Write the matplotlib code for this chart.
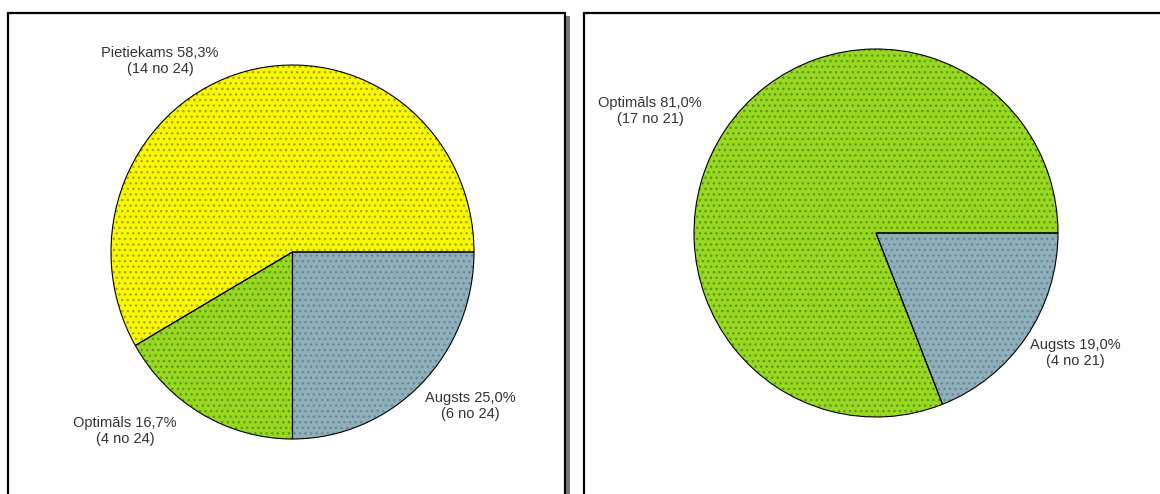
import matplotlib
matplotlib.use("Agg")
import matplotlib.pyplot as plt
from matplotlib.patches import Rectangle

plt.rcParams['font.family'] = ['Liberation Sans', 'DejaVu Sans']
plt.rcParams['hatch.linewidth'] = 1.0

# ---- data ----
left_categories = ["Augsts", "Optimāls", "Pietiekams"]
left_counts = [6, 4, 14]
left_total = 24
left_pct_labels = ["25,0%", "16,7%", "58,3%"]

right_categories = ["Augsts", "Optimāls"]
right_counts = [4, 17]
right_total = 21
right_pct_labels = ["19,0%", "81,0%"]

# ---- styles ----
colors = {"Augsts": "#8fb0bb", "Optimāls": "#98d820", "Pietiekams": "#f8f800"}
dots = {"Augsts": "#6a8893", "Optimāls": "#5a9a10", "Pietiekams": "#a8a800"}
text_color = "#333333"

W, H = 1160, 494
fig = plt.figure(figsize=(W / 100, H / 100), dpi=100)
fig.patch.set_facecolor("white")


def px_rect(x0, y0, x1, y1, **kw):
    return Rectangle((x0 / W, 1 - y1 / H), (x1 - x0) / W, (y1 - y0) / H,
                     transform=fig.transFigure, **kw)


# panel frames with shadow
fig.add_artist(px_rect(9, 16, 570, 520, facecolor="#777777", edgecolor="none", zorder=-3))
fig.add_artist(px_rect(8, 13, 565, 520, facecolor="white", edgecolor="black", linewidth=1.6, zorder=-2))
fig.add_artist(px_rect(584, 13, 1175, 520, facecolor="white", edgecolor="black", linewidth=1.6, zorder=-2))


def draw_pie(cx, cy, rx, ry, cats, counts, total, pcts, label_pos):
    ax = fig.add_axes([(cx - rx) / W, (H - cy - ry) / H, 2 * rx / W, 2 * ry / H])
    ax.set_zorder(2)
    ax.patch.set_visible(False)
    cols = [colors[c] for c in cats]
    wedges, _ = ax.pie(counts, colors=cols, startangle=0, counterclock=False,
                       radius=1.0, wedgeprops=dict(linewidth=0))
    for w, c in zip(wedges, cats):
        w.set_hatch("...")
        w.set_edgecolor(dots[c])
        w.set_linewidth(0)
    ax.pie(counts, startangle=0, counterclock=False, radius=1.0,
           wedgeprops=dict(fill=False, edgecolor="black", linewidth=0.8))
    ax.set_aspect("auto")
    ax.set_xlim(-1, 1)
    ax.set_ylim(-1, 1)
    ax.axis("off")
    for c, n, p, (lx, ly) in zip(cats, counts, pcts, label_pos):
        fig.text(lx / W, 1 - ly / H, f"{c} {p}\n({n} no {total})",
                 ha="center", va="center", fontsize=10.5, color=text_color,
                 linespacing=1.2, zorder=5)


draw_pie(292.5, 252, 181.5, 187, left_categories, left_counts, left_total,
         left_pct_labels, [(470, 406), (125, 431), (160, 61)])
draw_pie(876, 233, 182, 184, right_categories, right_counts, right_total,
         right_pct_labels, [(1075, 353), (650, 111)])

fig.savefig("out.png", dpi=100)
